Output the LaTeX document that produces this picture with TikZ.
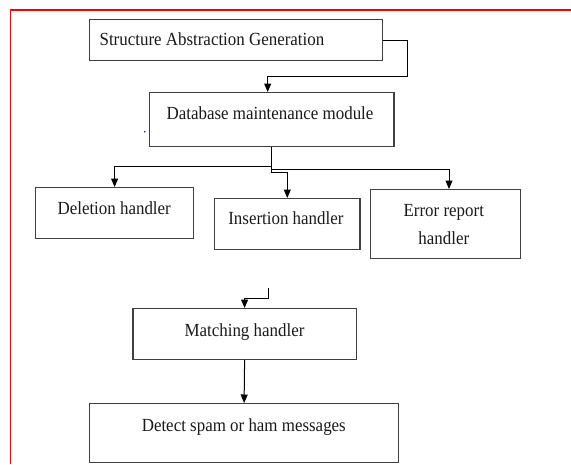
\documentclass[tikz,border=0pt]{standalone}
\usepackage{fontspec}
\setmainfont[FakeStretch=0.915]{Liberation Serif}
\usetikzlibrary{arrows.meta}
\begin{document}
\begin{tikzpicture}[x=1pt,y=-1pt,
  boxnode/.style={draw=black!75,line width=1.2pt,inner sep=0pt,anchor=north west},
  txt/.style={inner sep=0pt,anchor=base,text=black!90,font=\fontsize{18.5}{28}\selectfont},
  conn/.style={draw=black,line width=1pt},
  arr/.style={conn,-{Triangle[length=8.5pt,width=7pt]}}]
\useasboundingbox (0,0) rectangle (571,464);
% red frame
\draw[red,line width=1.5pt] (571,10) -- (10.3,10) -- (10.3,464);
% boxes
\node[boxnode,minimum width=293.5pt,minimum height=41pt] (sag) at (88.5,19) {};
\node[boxnode,minimum width=244.7pt,minimum height=54pt] (dmm) at (148.6,92) {};
\node[boxnode,minimum width=158pt,minimum height=51pt] (del) at (35,187) {};
\node[boxnode,minimum width=145.4pt,minimum height=51pt] (ins) at (214,198) {};
\node[boxnode,minimum width=150pt,minimum height=69pt] (err) at (370,189) {};
\node[boxnode,minimum width=223.4pt,minimum height=51pt] (mat) at (132.3,308) {};
\node[boxnode,minimum width=309pt,minimum height=59pt] (det) at (89,403) {};
% texts
\node[txt,anchor=base west] (sagt) at (99.4,45.7) {Structure Abstraction Generation};
\node[txt] (dmmt) at (270,119) {Database maintenance module};
\node[txt] (delt) at (114.2,214) {Deletion handler};
\node[txt] (inst) at (285.9,224) {Insertion handler};
\node[txt] (errt1) at (443.8,216) {Error report};
\node[txt] (errt2) at (443.8,244) {handler};
\node[txt] (matt) at (244.5,336) {Matching handler};
\node[txt] (dett) at (243.8,431) {Detect spam or ham messages};
% stray blue dot
\fill[blue] (144.8,131.7) circle (0.9pt);
% connectors
\coordinate (j1) at (407.5,76.7);
\coordinate (d1) at (267.7,76.7);
\draw[arr] (sag.east) -| (j1) -- (d1) -- (d1 |- dmm.north);
\coordinate (b0) at (271.3,166.7);
\coordinate (b1) at (271.3,169);
\coordinate (b2) at (271.3,172);
\coordinate (e1) at (449,169);
\draw[conn] (b0 |- dmm.south) -- (b2);
\draw[arr] (b0) -| (del.north);
\draw[arr] (b1) -- (e1) -- (e1 |- err.north);
\draw[arr] (b2) -| (ins.north);
\coordinate (p0) at (268.3,288);
\coordinate (p1) at (268.3,298);
\draw[arr] (p0) -- (p1) -| (mat.north);
\draw[arr] (mat.south) -- (det.north);
\end{tikzpicture}
\end{document}
